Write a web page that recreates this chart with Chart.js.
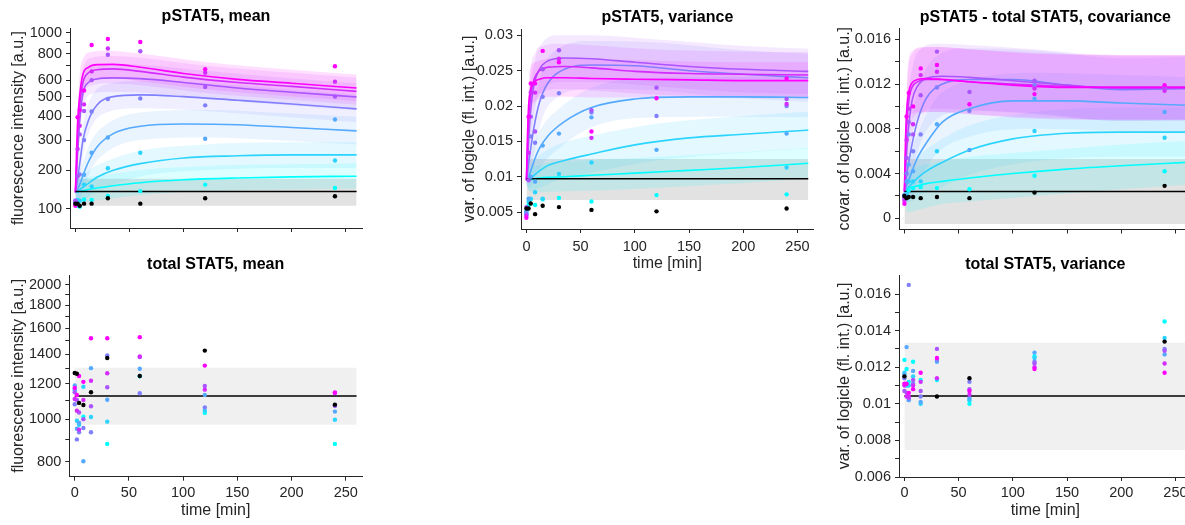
<!DOCTYPE html>
<html>
<head>
<meta charset="utf-8">
<script src="https://cdn.jsdelivr.net/npm/chart.js@4.4.1/dist/chart.umd.min.js"></script>
<style>
  html, body { margin: 0; padding: 0; background: #fff; overflow: hidden; }
  body { width: 1185px; height: 525px; position: relative; }
  canvas { position: absolute; }
</style>
</head>
<body>
<canvas id="pMean"></canvas>
<canvas id="pVar"></canvas>
<canvas id="pCov"></canvas>
<canvas id="tMean"></canvas>
<canvas id="tVar"></canvas>
<script>
// time grids (min)
const T_FIT = [0, 1, 2, 4, 7, 12, 20, 35, 60, 100, 150, 200, 260];
const T_BAND = [0, 3, 8, 15, 30, 60, 120, 200, 260];
const T_DATA = [0, 2, 4, 8, 15, 30, 60, 120, 240];
const T_CTRL = [0, 260];
const X_TICKS = [0, 50, 100, 150, 200, 250];

// dose colours, low -> high (cool colormap)
const DOSE_COLORS = ['0,255,255', '43,212,255', '85,170,255', '128,128,255', '170,85,255', '212,43,255', '255,0,255'];

// ---- pSTAT5, mean ----
const pMeanFit = [
  [140, 140, 141, 142, 144, 147, 151, 157, 165, 173, 178, 181, 183],
  [140, 141, 143, 147, 153, 163, 180, 200, 220, 238, 245, 248, 248],
  [140, 143, 148, 160, 185, 225, 275, 325, 355, 365, 362, 350, 336],
  [140, 155, 175, 220, 300, 380, 455, 500, 510, 500, 480, 460, 435],
  [140, 190, 250, 380, 520, 585, 608, 615, 610, 585, 550, 525, 498],
  [140, 200, 300, 450, 585, 650, 672, 678, 660, 620, 585, 560, 530],
  [140, 250, 370, 510, 640, 690, 710, 712, 690, 645, 605, 580, 550]
];
const pMeanLo = [
  [130, 112, 114, 118, 123, 133, 143, 147, 149],
  [130, 115, 122, 134, 153, 182, 200, 207, 207],
  [130, 122, 152, 205, 260, 300, 310, 297, 284],
  [130, 158, 265, 355, 420, 438, 425, 395, 373],
  [130, 255, 460, 515, 527, 523, 490, 452, 428],
  [130, 310, 515, 565, 580, 567, 520, 482, 456],
  [130, 370, 560, 600, 612, 592, 542, 500, 475]
];
const pMeanHi = [
  [150, 173, 177, 182, 188, 201, 213, 218, 221],
  [150, 178, 190, 206, 230, 262, 284, 292, 292],
  [150, 188, 235, 300, 368, 418, 430, 413, 397],
  [150, 240, 385, 500, 575, 595, 580, 540, 510],
  [150, 400, 635, 700, 715, 710, 665, 610, 580],
  [150, 470, 705, 765, 780, 765, 702, 650, 615],
  [150, 540, 770, 815, 825, 800, 730, 672, 638]
];
const pMeanPts = [
  [112, 107, 105, 122, 121, 131, 143, 160, 151],
  [118, 121, 119, 160, 155, 206, 255, null, 230],
  [115, null, null, 187, 255, 310, null, 305, 385],
  [120, null, 188, 300, 422, 487, 490, 453, null],
  [118, 183, 322, 425, 600, 790, 820, 557, 500],
  [110, 268, 357, 458, 660, 845, null, 650, 590],
  [107, 395, 429, 535, 877, 935, 905, 675, 698]
];
const pMeanCtrlPts = [112, 112, 107, 112, 112, 125, 112, 125, 130];
const pMeanCtrl = 142;
const pMeanCtrlBand = [107, 176];
const pMeanYTicks = [100, 200, 300, 400, 500, 600, 700, 800, 900, 1000];
const pMeanYLabels = [100, 200, 300, 400, 500, 600, 800, 1000];

// ---- pSTAT5, variance ----
const pVarFit = [
  [0.0095, 0.0095, 0.0096, 0.0096, 0.0097, 0.0098, 0.0099, 0.0100, 0.0102, 0.0105, 0.0109, 0.0113, 0.0119],
  [0.0095, 0.0095, 0.0096, 0.0098, 0.0102, 0.0108, 0.0116, 0.0123, 0.0132, 0.0145, 0.0155, 0.0160, 0.0166],
  [0.0095, 0.0097, 0.0100, 0.0108, 0.0122, 0.0140, 0.0158, 0.0178, 0.0198, 0.0210, 0.0213, 0.0213, 0.0212],
  [0.0095, 0.0105, 0.0118, 0.0140, 0.0170, 0.0205, 0.0233, 0.0252, 0.0258, 0.0257, 0.0250, 0.0245, 0.0240],
  [0.0095, 0.0120, 0.0150, 0.0195, 0.0230, 0.0252, 0.0264, 0.0268, 0.0267, 0.0262, 0.0256, 0.0252, 0.0249],
  [0.0095, 0.0140, 0.0180, 0.0215, 0.0238, 0.0250, 0.0255, 0.0256, 0.0254, 0.0249, 0.0246, 0.0245, 0.0244],
  [0.0095, 0.0160, 0.0200, 0.0225, 0.0234, 0.0238, 0.0240, 0.0240, 0.0239, 0.0238, 0.0237, 0.0236, 0.0236]
];
const pVarLo = [
  [0.0090, 0.0080, 0.0079, 0.0078, 0.0079, 0.0080, 0.0084, 0.0091, 0.0097],
  [0.0090, 0.0079, 0.0081, 0.0086, 0.0096, 0.0106, 0.0123, 0.0134, 0.0140],
  [0.0090, 0.0085, 0.0098, 0.0118, 0.0140, 0.0170, 0.0184, 0.0185, 0.0184],
  [0.0090, 0.0100, 0.0140, 0.0184, 0.0214, 0.0224, 0.0222, 0.0211, 0.0206],
  [0.0090, 0.0135, 0.0198, 0.0222, 0.0234, 0.0234, 0.0228, 0.0219, 0.0217],
  [0.0090, 0.0165, 0.0207, 0.0219, 0.0224, 0.0222, 0.0216, 0.0213, 0.0212],
  [0.0090, 0.0188, 0.0206, 0.0212, 0.0213, 0.0212, 0.0212, 0.0211, 0.0211]
];
const pVarHi = [
  [0.0100, 0.0112, 0.0115, 0.0118, 0.0121, 0.0124, 0.0128, 0.0135, 0.0141],
  [0.0100, 0.0115, 0.0125, 0.0134, 0.0146, 0.0158, 0.0175, 0.0186, 0.0192],
  [0.0100, 0.0125, 0.0150, 0.0172, 0.0196, 0.0226, 0.0240, 0.0241, 0.0240],
  [0.0100, 0.0160, 0.0210, 0.0252, 0.0282, 0.0292, 0.0290, 0.0279, 0.0274],
  [0.0100, 0.0210, 0.0265, 0.0290, 0.0300, 0.0300, 0.0294, 0.0285, 0.0281],
  [0.0100, 0.0235, 0.0275, 0.0285, 0.0288, 0.0286, 0.0280, 0.0277, 0.0276],
  [0.0100, 0.0250, 0.0262, 0.0266, 0.0267, 0.0266, 0.0264, 0.0262, 0.0262]
];
const pVarPts = [
  [0.0050, 0.0060, 0.0068, 0.0060, 0.0068, 0.0070, 0.0065, 0.0074, 0.0075],
  [0.0047, 0.0065, 0.0069, 0.0078, 0.0069, 0.0104, 0.0120, null, 0.0113],
  [0.0051, 0.0069, 0.0100, 0.0093, 0.0144, 0.0161, 0.0184, 0.0138, 0.0161],
  [0.0048, null, 0.0157, 0.0148, 0.0213, 0.0218, 0.0191, 0.0186, 0.0200],
  [0.0057, 0.0095, 0.0185, 0.0164, 0.0252, 0.0279, 0.0194, 0.0226, 0.0210],
  [0.0045, 0.0134, 0.0219, 0.0219, null, 0.0267, 0.0155, null, 0.0203],
  [0.0042, 0.0185, 0.0232, 0.0232, 0.0278, 0.0262, 0.0164, 0.0211, 0.0239]
];
const pVarCtrlPts = [0.0055, 0.0055, 0.0062, 0.0047, 0.0059, 0.0057, 0.0053, 0.0051, 0.0055];
const pVarCtrl = 0.0097;
const pVarCtrlBand = [0.0067, 0.0125];
const pVarYTicks = [0.005, 0.01, 0.015, 0.02, 0.025, 0.03];

// ---- pSTAT5 - total STAT5, covariance ----
const pCovFit = [
  [0.0024, 0.0025, 0.0026, 0.0027, 0.0028, 0.0029, 0.0031, 0.0033, 0.0036, 0.0040, 0.0044, 0.0047, 0.0050],
  [0.0024, 0.0025, 0.0026, 0.0028, 0.0031, 0.0036, 0.0042, 0.0050, 0.0061, 0.0071, 0.0076, 0.0077, 0.0077],
  [0.0024, 0.0026, 0.0029, 0.0034, 0.0042, 0.0054, 0.0067, 0.0086, 0.0098, 0.0105, 0.0105, 0.0103, 0.0101],
  [0.0024, 0.0030, 0.0038, 0.0050, 0.0066, 0.0087, 0.0107, 0.0120, 0.0124, 0.0124, 0.0119, 0.0115, 0.0116],
  [0.0024, 0.0040, 0.0058, 0.0083, 0.0105, 0.0118, 0.0125, 0.0127, 0.0126, 0.0123, 0.0119, 0.0116, 0.0116],
  [0.0024, 0.0055, 0.0080, 0.0105, 0.0117, 0.0122, 0.0124, 0.0124, 0.0122, 0.0120, 0.0118, 0.0117, 0.0117],
  [0.0024, 0.0070, 0.0095, 0.0113, 0.0121, 0.0124, 0.0125, 0.0124, 0.0122, 0.0119, 0.0117, 0.0117, 0.0117]
];
const pCovLo = [
  [0.0018, 0.0005, 0.0006, 0.0008, 0.0012, 0.0015, 0.0020, 0.0026, 0.0030],
  [0.0018, 0.0014, 0.0016, 0.0021, 0.0026, 0.0039, 0.0051, 0.0055, 0.0055],
  [0.0018, 0.0014, 0.0023, 0.0036, 0.0058, 0.0073, 0.0080, 0.0078, 0.0076],
  [0.0018, 0.0023, 0.0045, 0.0068, 0.0089, 0.0096, 0.0094, 0.0087, 0.0088],
  [0.0018, 0.0042, 0.0079, 0.0093, 0.0098, 0.0097, 0.0093, 0.0087, 0.0087],
  [0.0018, 0.0061, 0.0090, 0.0094, 0.0095, 0.0093, 0.0090, 0.0088, 0.0088],
  [0.0018, 0.0075, 0.0094, 0.0095, 0.0095, 0.0093, 0.0089, 0.0088, 0.0088]
];
const pCovHi = [
  [0.0030, 0.0040, 0.0044, 0.0047, 0.0050, 0.0055, 0.0060, 0.0066, 0.0069],
  [0.0030, 0.0040, 0.0048, 0.0057, 0.0068, 0.0083, 0.0095, 0.0099, 0.0099],
  [0.0030, 0.0048, 0.0065, 0.0082, 0.0108, 0.0123, 0.0130, 0.0128, 0.0126],
  [0.0030, 0.0065, 0.0095, 0.0122, 0.0145, 0.0152, 0.0150, 0.0143, 0.0144],
  [0.0030, 0.0100, 0.0137, 0.0151, 0.0156, 0.0155, 0.0151, 0.0145, 0.0145],
  [0.0030, 0.0125, 0.0148, 0.0152, 0.0153, 0.0151, 0.0148, 0.0146, 0.0146],
  [0.0030, 0.0135, 0.0150, 0.0153, 0.0153, 0.0151, 0.0147, 0.0146, 0.0146]
];
const pCovPts = [
  [0.0020, 0.0020, 0.0025, 0.0027, 0.0028, 0.0027, 0.0026, 0.0038, 0.0042],
  [0.0019, 0.0022, 0.0033, 0.0033, 0.0033, 0.0060, null, 0.0078, 0.0072],
  [0.0021, 0.0033, 0.0048, 0.0042, null, 0.0084, 0.0061, 0.0107, 0.0095],
  [0.0020, 0.0040, 0.0075, 0.0060, 0.0075, 0.0117, 0.0096, 0.0119, null],
  [0.0018, 0.0054, 0.0086, 0.0075, 0.0110, 0.0149, 0.0113, 0.0123, 0.0117],
  [0.0016, 0.0070, 0.0098, 0.0084, 0.0128, 0.0131, null, 0.0116, 0.0114],
  [0.0013, 0.0091, 0.0112, 0.0100, 0.0134, 0.0137, 0.0102, 0.0111, 0.0119]
];
const pCovCtrlPts = [0.0020, 0.0018, 0.0019, 0.0019, 0.0018, 0.0019, 0.0018, 0.0023, 0.0029];
const pCovCtrl = 0.0024;
const pCovCtrlBand = [-0.0005, 0.0053];
const pCovYTicks = [0, 0.002, 0.004, 0.006, 0.008, 0.01, 0.012, 0.014, 0.016];
const pCovYLabels = [0, 0.004, 0.008, 0.012, 0.016];

// ---- total STAT5, mean ----
const tMeanPts = [
  [1170, null, null, 1013, null, 879, 1248, 1033, 879],
  [1160, 992, 971, 1183, 1011, 987, 1250, 1045, 997],
  [1190, 951, 981, 803, 1302, 1106, 1298, 1133, 1040],
  [1080, 900, 934, 955, 934, 1390, 1144, 1063, 1072],
  [1150, 1105, 1035, 1000, 1069, 1180, 1378, 1187, 1073],
  [1110, 1045, 947, 1104, 1220, 1268, 1382, 1165, 1145],
  [1175, 1133, 1250, 1213, 1519, 1519, 1527, 1319, 1148]
];
const tMeanCtrlPts = [1270, 1265, 1088, 1076, 1150, 1372, 1250, 1425, 1078];
const tMeanCtrl = 1127;
const tMeanCtrlBand = [971, 1305];
const tMeanYTicks = [800, 900, 1000, 1100, 1200, 1300, 1400, 1500, 1600, 1700, 1800, 1900, 2000];
const tMeanYLabels = [800, 1000, 1200, 1400, 1600, 1800, 2000];

// ---- total STAT5, variance ----
const tVarPts = [
  [0.0124, 0.0119, 0.0112, 0.0123, 0.0113, 0.0113, 0.0100, 0.0126, 0.0145],
  [0.0117, 0.0110, 0.0110, 0.0115, 0.0100, null, 0.0102, 0.0125, 0.0136],
  [0.0116, 0.0131, 0.0102, 0.0118, 0.0101, 0.0123, 0.0103, 0.0128, 0.0127],
  [0.0114, null, 0.0165, 0.0111, 0.0104, 0.0124, 0.0112, 0.0123, 0.0130],
  [0.0107, 0.0106, 0.0103, 0.0113, 0.0107, 0.0130, 0.0108, 0.0122, 0.0129],
  [0.0110, 0.0104, 0.0104, 0.0110, 0.0112, 0.0114, 0.0105, 0.0120, 0.0122],
  [0.0111, 0.0111, 0.0106, 0.0108, 0.0117, 0.0125, 0.0107, 0.0119, 0.0117]
];
const tVarCtrlPts = [0.0115, null, null, null, null, 0.0104, 0.0114, null, 0.0134];
const tVarCtrl = 0.01043;
const tVarCtrlBand = [0.00748, 0.01334];
const tVarYTicks = [0.006, 0.007, 0.008, 0.009, 0.01, 0.011, 0.012, 0.013, 0.014, 0.015, 0.016];
const tVarYLabels = [0.006, 0.008, 0.01, 0.012, 0.014, 0.016];

const FONT = '"Liberation Sans", Arial, Helvetica, sans-serif';
const AX = '#262626';
const C_ASINH = 200;

// logicle-like axis: asinh transform
class AsinhScale extends Chart.LinearScale {
  configure() {
    super.configure();
    this._aMin = Math.asinh(this.min / C_ASINH);
    this._aMax = Math.asinh(this.max / C_ASINH);
  }
  getPixelForValue(v) {
    if (v === null || v === undefined) return NaN;
    return this.getPixelForDecimal((Math.asinh(v / C_ASINH) - this._aMin) / (this._aMax - this._aMin));
  }
  getValueForPixel(p) {
    const d = this.getDecimalForPixel(p);
    return C_ASINH * Math.sinh(this._aMin + d * (this._aMax - this._aMin));
  }
}
AsinhScale.id = 'asinh';
AsinhScale.defaults = {};
Chart.register(AsinhScale);

const panelTitle = {
  id: 'panelTitle',
  afterDraw(chart, args, opts) {
    const { ctx, chartArea } = chart;
    ctx.save();
    ctx.font = 'bold 16px ' + FONT;
    ctx.fillStyle = '#000';
    ctx.textAlign = 'center';
    ctx.textBaseline = 'middle';
    ctx.fillText(opts.text, (chartArea.left + chartArea.right) / 2, opts.y);
    ctx.restore();
  }
};

function xy(ts, vs) {
  const out = [];
  ts.forEach((t, i) => { if (vs[i] !== null && vs[i] !== undefined) out.push({ x: t, y: vs[i] }); });
  return out;
}
const rgba = (c, a) => 'rgba(' + c + ',' + a + ')';

function buildDatasets(p) {
  const ds = [];
  ds.push({ data: xy(T_DATA, p.ctrlPts), showLine: false, pointRadius: 2.2, pointBorderWidth: 0, pointBackgroundColor: '#000', order: 1 });
  for (let k = 6; k >= 0; k--) {
    ds.push({ data: xy(T_DATA, p.pts[k]), showLine: false, pointRadius: 2.2, pointBorderWidth: 0, pointBackgroundColor: rgba(DOSE_COLORS[k], 1), order: 1 });
  }
  ds.push({ data: xy(T_CTRL, [p.ctrl, p.ctrl]), borderColor: '#000', borderWidth: 1.5, pointRadius: 0, order: 9 });
  if (p.fit) {
    for (let k = 6; k >= 0; k--) {
      ds.push({ data: xy(T_FIT, p.fit[k]), borderColor: rgba(DOSE_COLORS[k], 1), borderWidth: 1.6, pointRadius: 0, cubicInterpolationMode: 'monotone', order: 10 });
    }
    for (let k = 6; k >= 0; k--) {
      ds.push({ data: xy(T_BAND, p.lo[k]), borderWidth: 0, pointRadius: 0, cubicInterpolationMode: 'monotone', order: 20 });
      ds.push({ data: xy(T_BAND, p.hi[k]), borderWidth: 0, pointRadius: 0, cubicInterpolationMode: 'monotone', fill: '-1', backgroundColor: rgba(DOSE_COLORS[k], 0.13), order: 20 });
    }
  }
  ds.push({ data: xy(T_CTRL, [p.band[0], p.band[0]]), borderWidth: 0, pointRadius: 0, order: 30 });
  ds.push({ data: xy(T_CTRL, [p.band[1], p.band[1]]), borderWidth: 0, pointRadius: 0, fill: '-1', backgroundColor: p.grey, order: 30 });
  return ds;
}

function panel(id, p) {
  const cv = document.getElementById(id);
  cv.width = p.w; cv.height = p.h;
  cv.style.left = p.left + 'px'; cv.style.top = p.top + 'px';
  cv.style.width = p.w + 'px'; cv.style.height = p.h + 'px';
  const yw = p.area.l - p.left;
  const xh = p.top + p.h - p.area.b;
  const labels = p.yLabels || p.yTicks;
  new Chart(cv, {
    type: 'line',
    data: { datasets: buildDatasets(p) },
    options: {
      responsive: false, animation: false, devicePixelRatio: 1,
      layout: { padding: { left: 0, bottom: 0, top: p.area.t - p.top, right: p.left + p.w - p.area.r } },
      plugins: { legend: { display: false }, tooltip: { enabled: false }, panelTitle: { text: p.title, y: p.titleY - p.top } },
      scales: {
        x: {
          type: 'linear', min: -5, max: 265, bounds: 'data',
          afterBuildTicks: ax => { ax.ticks = X_TICKS.map(v => ({ value: v })); },
          afterFit: ax => { ax.height = xh; },
          grid: { drawOnChartArea: false, drawTicks: true, tickLength: 4, tickColor: AX, color: AX },
          border: { display: true, color: AX, width: 1 },
          ticks: { display: !!p.xLabels, padding: p.xLabels ? p.xTickY - p.area.b - 4 - 8.7 : 3, color: AX, font: { size: 14.5, family: FONT }, maxRotation: 0, minRotation: 0, autoSkip: false },
          title: { display: !!p.xLabels, text: 'time [min]', color: AX, font: { size: 16, family: FONT }, padding: { top: 0, bottom: p.xLabels ? p.top + p.h - p.xTitleY - 9.6 : 0 } }
        },
        y: {
          type: p.asinh ? 'asinh' : 'linear', min: p.yMin, max: p.yMax, bounds: 'data',
          afterBuildTicks: ax => { ax.ticks = p.yTicks.map(v => ({ value: v })); },
          afterFit: ax => { ax.width = yw; },
          grid: { drawOnChartArea: false, drawTicks: true, tickLength: 4, tickColor: AX, color: AX },
          border: { display: true, color: AX, width: 1 },
          ticks: { padding: 4, color: AX, font: { size: 14.5, family: FONT }, autoSkip: false, callback: v => labels.includes(v) ? String(v) : '' },
          title: { display: true, text: p.yTitle, color: AX, font: { size: 16, family: FONT }, padding: { top: p.yTitleX - p.left - 9.6, bottom: 0 } }
        }
      }
    },
    plugins: [panelTitle]
  });
}

panel('pMean', {
  left: 0, top: 0, w: 372, h: 250, area: { l: 70, r: 362, t: 28, b: 228 },
  title: 'pSTAT5, mean', titleY: 16.7, yTitle: 'fluorescence intensity [a.u.]', yTitleX: 18.3,
  asinh: true, yMin: 57, yMax: 1050, yTicks: pMeanYTicks, yLabels: pMeanYLabels,
  fit: pMeanFit, lo: pMeanLo, hi: pMeanHi, pts: pMeanPts, ctrlPts: pMeanCtrlPts,
  ctrl: pMeanCtrl, band: pMeanCtrlBand, grey: '#e2e2e2'
});
panel('pVar', {
  left: 448, top: 0, w: 372, h: 275, area: { l: 521, r: 813.7, t: 29, b: 229 },
  title: 'pSTAT5, variance', titleY: 17.3, yTitle: 'var. of logicle (fl. int.) [a.u.]', yTitleX: 470,
  xLabels: true, xTickY: 246.7, xTitleY: 263.3,
  yMin: 0.0026, yMax: 0.0309, yTicks: pVarYTicks,
  fit: pVarFit, lo: pVarLo, hi: pVarHi, pts: pVarPts, ctrlPts: pVarCtrlPts,
  ctrl: pVarCtrl, band: pVarCtrlBand, grey: '#e2e2e2'
});
panel('pCov', {
  left: 825, top: 0, w: 375, h: 250, area: { l: 899, r: 1191.7, t: 28.1, b: 229.5 },
  title: 'pSTAT5 - total STAT5, covariance', titleY: 17.3, yTitle: 'covar. of logicle (fl. int.) [a.u.]', yTitleX: 845,
  yMin: -0.001, yMax: 0.017, yTicks: pCovYTicks, yLabels: pCovYLabels,
  fit: pCovFit, lo: pCovLo, hi: pCovHi, pts: pCovPts, ctrlPts: pCovCtrlPts,
  ctrl: pCovCtrl, band: pCovCtrlBand, grey: '#e2e2e2'
});
panel('tMean', {
  left: 0, top: 250, w: 372, h: 275, area: { l: 69.3, r: 362, t: 275, b: 476.7 },
  title: 'total STAT5, mean', titleY: 265, yTitle: 'fluorescence intensity [a.u.]', yTitleX: 18.3,
  xLabels: true, xTickY: 492.7, xTitleY: 511,
  asinh: true, yMin: 740, yMax: 2100, yTicks: tMeanYTicks, yLabels: tMeanYLabels,
  pts: tMeanPts, ctrlPts: tMeanCtrlPts, ctrl: tMeanCtrl, band: tMeanCtrlBand, grey: '#f0f0f0'
});
panel('tVar', {
  left: 825, top: 250, w: 375, h: 275, area: { l: 899, r: 1191.7, t: 275, b: 477 },
  title: 'total STAT5, variance', titleY: 265, yTitle: 'var. of logicle (fl. int.) [a.u.]', yTitleX: 845,
  xLabels: true, xTickY: 493.3, xTitleY: 511,
  yMin: 0.006, yMax: 0.01704, yTicks: tVarYTicks, yLabels: tVarYLabels,
  pts: tVarPts, ctrlPts: tVarCtrlPts, ctrl: tVarCtrl, band: tVarCtrlBand, grey: '#f0f0f0'
});
</script>
</body>
</html>
